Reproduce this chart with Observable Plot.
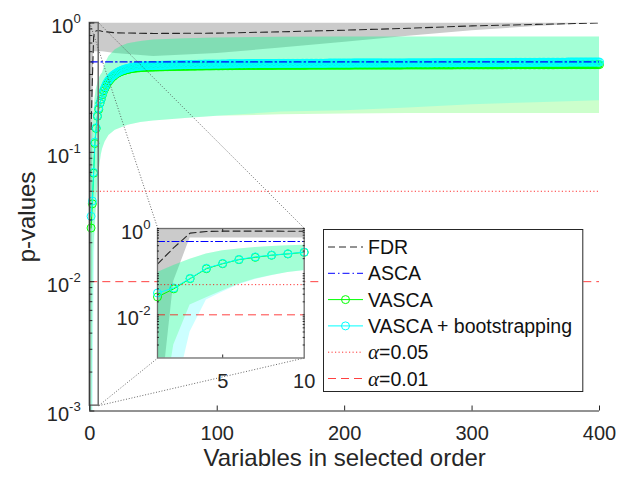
<!DOCTYPE html>
<html><head><meta charset="utf-8">
<script src="https://cdn.jsdelivr.net/npm/d3@7"></script>
<script src="https://cdn.jsdelivr.net/npm/@observablehq/plot@0.6"></script>
<style>
body{margin:0;background:#fff;}
#wrap{position:relative;width:626px;height:477px;font-family:"Liberation Sans",Arial,sans-serif;}
#wrap svg{position:absolute;overflow:visible;}
</style></head><body><div id="wrap"></div>
<script>
// ---------------- data ----------------
// p-values of VASCA (green) for variables 1..400 in selected order
const vasca = [
.026,.040,.069,.117,.153,.190,.215,.240,.258,.280,.300,.315,.330,.345,.355,.365,.375,.385,.390,.400,
.405,.410,.415,.420,.423,.426,.430,.432,.435,.437,.440,.442,.444,.446,.447,.448,.449,.450,.451,.452,
.453,.453,.454,.454,.455,.455,.455,.456,.456,.456,.457,.457,.457,.458,.458,.458,.459,.459,.459,.460,
.460,.460,.460,.461,.461,.461,.461,.462,.462,.462,.462,.462,.463,.463,.463,.463,.463,.464,.464,.464,
.464,.464,.464,.465,.465,.465,.465,.465,.465,.466,.466,.466,.466,.466,.466,.466,.467,.467,.467,.467,
.467,.467,.467,.467,.468,.468,.468,.468,.468,.468,.468,.468,.469,.469,.469,.469,.469,.469,.469,.469,
.469,.470,.470,.470,.470,.470,.470,.470,.470,.470,.470,.470,.470,.470,.470,.470,.470,.470,.470,.470,
.470,.470,.470,.470,.470,.471,.471,.471,.471,.471,.471,.471,.471,.471,.471,.471,.471,.471,.471,.471,
.471,.471,.471,.471,.471,.471,.471,.471,.471,.471,.472,.472,.472,.472,.472,.472,.472,.472,.472,.472,
.472,.472,.472,.472,.472,.472,.472,.472,.472,.472,.472,.472,.472,.472,.472,.472,.472,.472,.472,.472,
.472,.472,.472,.472,.472,.473,.473,.473,.473,.473,.473,.473,.473,.473,.473,.473,.473,.473,.473,.473,
.473,.473,.473,.473,.473,.473,.473,.473,.473,.473,.473,.473,.473,.473,.473,.473,.473,.473,.473,.473,
.473,.473,.473,.473,.473,.474,.474,.474,.474,.474,.474,.474,.474,.474,.474,.474,.474,.474,.474,.474,
.474,.474,.474,.474,.474,.474,.474,.474,.474,.474,.474,.474,.474,.474,.474,.474,.474,.474,.474,.474,
.474,.474,.474,.474,.474,.475,.475,.475,.475,.475,.475,.475,.475,.475,.475,.475,.475,.475,.475,.475,
.475,.475,.475,.475,.475,.475,.475,.475,.475,.475,.475,.475,.475,.475,.475,.475,.475,.475,.475,.475,
.475,.475,.475,.475,.475,.476,.476,.476,.476,.476,.476,.476,.476,.476,.476,.476,.476,.476,.476,.476,
.476,.476,.476,.476,.476,.476,.476,.476,.476,.476,.476,.476,.476,.476,.476,.476,.476,.476,.476,.476,
.476,.476,.476,.476,.476,.477,.477,.477,.477,.477,.477,.477,.477,.477,.477,.477,.477,.477,.477,.477,
.477,.477,.477,.477,.477,.477,.477,.477,.477,.477,.477,.477,.477,.477,.477,.477,.477,.477,.477,.477
];
// p-values of VASCA + bootstrapping (cyan)
const vascaBoot = [
.032,.042,.070,.120,.155,.192,.220,.242,.260,.284,.305,.322,.338,.352,.363,.373,.383,.392,.398,.405,
.411,.417,.422,.427,.431,.435,.438,.441,.444,.447,.450,.452,.454,.456,.458,.460,.461,.462,.463,.464,
.465,.465,.466,.466,.467,.467,.468,.468,.468,.469,.469,.469,.470,.470,.470,.471,.471,.471,.472,.472,
.472,.473,.473,.473,.474,.474,.474,.475,.475,.475,.475,.476,.476,.476,.476,.477,.477,.477,.477,.478,
.478,.478,.478,.478,.479,.479,.479,.479,.479,.480,.480,.480,.480,.480,.480,.481,.481,.481,.481,.481,
.481,.481,.482,.482,.482,.482,.482,.482,.483,.483,.483,.483,.483,.483,.484,.484,.484,.484,.484,.484,
.484,.484,.485,.485,.485,.485,.485,.485,.485,.485,.485,.485,.486,.486,.486,.486,.486,.486,.486,.486,
.486,.486,.486,.486,.486,.486,.487,.487,.487,.487,.487,.487,.487,.487,.487,.487,.487,.487,.487,.487,
.487,.487,.487,.487,.487,.487,.488,.488,.488,.488,.488,.488,.488,.488,.488,.488,.488,.488,.488,.488,
.488,.488,.488,.488,.488,.488,.489,.489,.489,.489,.489,.489,.489,.489,.489,.489,.489,.489,.489,.489,
.489,.489,.489,.489,.489,.489,.490,.490,.490,.490,.490,.490,.490,.490,.490,.490,.490,.490,.490,.490,
.490,.490,.490,.490,.490,.490,.490,.490,.491,.491,.491,.491,.491,.491,.491,.491,.491,.491,.491,.491,
.491,.491,.491,.491,.491,.491,.491,.491,.492,.492,.492,.492,.492,.492,.492,.492,.492,.492,.492,.492,
.492,.492,.492,.492,.492,.492,.492,.492,.493,.493,.493,.493,.493,.493,.493,.493,.493,.493,.493,.493,
.493,.493,.493,.493,.493,.493,.493,.493,.493,.493,.494,.494,.494,.494,.494,.494,.494,.494,.494,.494,
.494,.494,.494,.494,.494,.494,.494,.494,.494,.494,.495,.495,.495,.495,.495,.495,.495,.495,.495,.495,
.495,.495,.495,.495,.495,.495,.495,.495,.495,.495,.495,.495,.496,.496,.496,.496,.496,.496,.496,.496,
.496,.496,.496,.496,.496,.496,.496,.496,.496,.496,.496,.496,.497,.497,.497,.497,.497,.497,.497,.497,
.497,.497,.497,.497,.497,.497,.497,.497,.497,.497,.497,.497,.497,.497,.498,.498,.498,.498,.498,.498,
.498,.498,.498,.498,.498,.498,.498,.498,.498,.498,.498,.498,.498,.498,.498,.498,.498,.498,.498,.498
];
// confidence bands (read at these variable positions)
const bandX     = [1,2,3,4,5,6,7,8,9,10,12,15,20,25,30,40,50,75,100,150,200,250,300,350,400];
const vascaLow  = [1e-5,.002,.017,.025,.036,.052,.068,.081,.096,.106,.12,.135,.148,.155,.162,.17,.175,.183,.19,.195,.198,.2,.2,.2,.2];
const vascaHigh = [.096,.138,.195,.256,.305,.333,.363,.384,.40,.41,.48,.55,.62,.66,.69,.72,.74,.755,.765,.775,.78,.78,.78,.78,.78];
const bootLow   = [1e-5,1e-4,.004,.022,.034,.05,.066,.08,.095,.105,.12,.135,.148,.155,.162,.17,.175,.183,.19,.205,.21,.22,.233,.242,.25];
const bootHigh  = [.096,.138,.195,.256,.305,.333,.363,.384,.40,.41,.48,.55,.62,.66,.69,.72,.74,.755,.765,.775,.78,.78,.78,.78,.78];
// FDR curve and its band
const fdrX = [1,2,3,4,5,6,8,10,20,50,100,150,200,250,300,350,400];
const fdr  = [.15,.36,.78,.85,.87,.87,.87,.86,.84,.83,.835,.855,.88,.91,.95,.975,1.0];
const fdrBandX = [1,2,3,4,5,10,20,50,100,150,200,250,300,350,400];
const fdrLow   = [2e-5,.06,.6,.6,.6,.6,.58,.55,.58,.64,.71,.79,.87,.94,1.0];
const fdrHigh  = [1,1,1,1,1,1,1,1,1,1,1,1,1,1,1];
// ASCA
const ascaX = [1,400];
const asca  = [0.5,0.5];
// significance levels
const alphas = [0.05, 0.01];
// ticks
const xTicks = [0,100,200,300,400];
const yTicks = [1e-3,1e-2,1e-1,1];
const insetXTicks = [5,10];
const insetYTicks = [1e-2,1];
// zoomed region (data coordinates of main plot)
const zoomX = [0,7];
const zoomY = [0.0011,1];
const insetXDomain = [1,10];

// ---------------- layout / style ----------------
const W = 626, H = 477;
const M = {left: 89.3, right: 27, top: 22.5, bottom: 66.5};
const INSET = {left: 157.3, top: 228, right: 304, bottom: 357.5};
const LEG = {left: 322.7, top: 229, width: 260.3, height: 163};
const FONT = '"Liberation Sans", Arial, sans-serif';
const COL = {fdr:"#262626", fdrBand:"#cbcbcb", asca:"#0000ff", vasca:"#00ff00", boot:"#00ffff", alpha:"#ff0000", axis:"#262626", box:"#6e6e6e", conn:"#444"};
const DASH = {fdr:"7,4", asca:"7,3,1.5,3", a05:"1.2,2.3", a01:"8,5"};

const pts = vasca.map((v,i)=>({x:i+1, v, b: vascaBoot[i]}));
const band = bandX.map((x,i)=>({x, vl:vascaLow[i], vh:vascaHigh[i], bl:bootLow[i], bh:bootHigh[i]}));
const fdrRows = fdrX.map((x,i)=>({x, y:fdr[i]}));
const fdrBandRows = fdrBandX.map((x,i)=>({x, lo:fdrLow[i], hi:fdrHigh[i]}));
const ascaRows = ascaX.map((x,i)=>({x, y:asca[i]}));
const minor = [];
for (const d of [1e-3,1e-2,1e-1]) for (const k of [2,3,4,5,6,7,8,9]) minor.push(+(k*d).toPrecision(3));

const supFmt = d => "10^" + Math.round(Math.log10(d));
function supify(svg, base) {
  d3.select(svg).selectAll("text").each(function() {
    const m = /^10\^(-?\d+)$/.exec(this.textContent);
    if (!m) return;
    this.textContent = "10";
    d3.select(this).append("tspan").attr("dy", -0.5*base).attr("font-size", 0.66*base).text(m[1]);
  });
}

function dataMarks(o) {
  return [
    Plot.areaY(fdrBandRows, {x:"x", y1:"lo", y2:"hi", fill:COL.fdrBand, clip:true}),
    Plot.areaY(band, {x:"x", y1:"vl", y2:"vh", fill:COL.vasca, fillOpacity:0.2, clip:true}),
    Plot.areaY(band, {x:"x", y1:"bl", y2:"bh", fill:COL.boot, fillOpacity:0.2, clip:true}),
    Plot.line(fdrRows, {x:"x", y:"y", stroke:COL.fdr, strokeWidth:1.1, strokeDasharray:DASH.fdr, clip:true}),
    Plot.line(o.pts, {x:"x", y:"v", stroke:COL.vasca, strokeWidth:1}),
    Plot.dot(o.pts, {x:"x", y:"v", stroke:COL.vasca, r:4, strokeWidth:1}),
    Plot.line(o.pts, {x:"x", y:"b", stroke:COL.boot, strokeWidth:1}),
    Plot.dot(o.pts, {x:"x", y:"b", stroke:COL.boot, r:4, strokeWidth:1}),
    Plot.line(ascaRows, {x:"x", y:"y", stroke:COL.asca, strokeWidth:1.2, strokeDasharray:DASH.asca, clip:true}),
    Plot.ruleY([alphas[0]], {stroke:COL.alpha, strokeWidth:1, strokeOpacity:0.8, strokeDasharray:DASH.a05}),
    Plot.ruleY([alphas[1]], {stroke:COL.alpha, strokeWidth:1, strokeOpacity:0.75, strokeDasharray:DASH.a01})
  ];
}

// main scales for connector geometry
const sx = Plot.scale({x:{domain:[0,400], range:[M.left, W-M.right]}});
const sy = Plot.scale({y:{type:"log", domain:[1e-3,1], range:[H-M.bottom, M.top]}});
const conn = [
  {x1:zoomX[0], y1:zoomY[1], x2:sx.invert(INSET.left),  y2:sy.invert(INSET.top)},
  {x1:zoomX[1], y1:zoomY[1], x2:sx.invert(INSET.right), y2:sy.invert(INSET.top)},
  {x1:zoomX[1], y1:zoomY[0], x2:sx.invert(INSET.left),  y2:sy.invert(INSET.bottom)},
  {x1:zoomX[1], y1:zoomY[0], x2:sx.invert(INSET.right), y2:sy.invert(INSET.bottom)}
];

const main = Plot.plot({
  width:W, height:H,
  marginLeft:M.left, marginRight:M.right, marginTop:M.top, marginBottom:M.bottom,
  x:{domain:[0,400], label:null},
  y:{type:"log", domain:[1e-3,1], label:null},
  style:{fontFamily:FONT, fontSize:"20px", color:COL.axis, background:"transparent", overflow:"visible"},
  marks:[
    ...dataMarks({pts}),
    Plot.rect([{x1:zoomX[0], x2:zoomX[1], y1:zoomY[0], y2:zoomY[1]}], {x1:"x1", x2:"x2", y1:"y1", y2:"y2", fill:"none", stroke:COL.box, strokeWidth:1.5}),
    Plot.link(conn, {x1:"x1", y1:"y1", x2:"x2", y2:"y2", stroke:COL.conn, strokeWidth:1, strokeDasharray:"1,1.8", strokeOpacity:0.8}),
    Plot.ruleX([0], {stroke:COL.axis, strokeWidth:1}),
    Plot.ruleY([1e-3], {stroke:COL.axis, strokeWidth:1}),
    Plot.axisX({ticks:xTicks, tickSize:0, tickPadding:15, tickFormat:d=>d, label:null}),
    Plot.axisX({ticks:xTicks, tickSize:-5, tickFormat:()=>"", label:null}),
    Plot.axisY({ticks:yTicks, tickSize:0, tickPadding:9, dy:4, tickFormat:supFmt, label:null}),
    Plot.axisY({ticks:yTicks, tickSize:-5, tickFormat:()=>"", label:null}),
    Plot.axisY({ticks:minor, tickSize:-3, tickFormat:()=>"", label:null}),
    Plot.text(["p-values"], {text:d=>d, frameAnchor:"left", textAnchor:"middle", lineAnchor:"middle", dx:-62, rotate:-90, fontSize:24}),
    Plot.text(["Variables in selected order"], {text:d=>d, frameAnchor:"bottom", textAnchor:"middle", lineAnchor:"middle", dy:47, fontSize:24})
  ]
});
supify(main, 20);
main.style.left = "0px"; main.style.top = "0px";
document.getElementById("wrap").appendChild(main);

// ---------------- inset ----------------
const iM = {left:70, right:12, top:10, bottom:40};
const insetPts = pts.filter(d => d.x >= insetXDomain[0] && d.x <= insetXDomain[1]);
const inset = Plot.plot({
  width: INSET.right-INSET.left+iM.left+iM.right,
  height: INSET.bottom-INSET.top+iM.top+iM.bottom,
  marginLeft:iM.left, marginRight:iM.right, marginTop:iM.top, marginBottom:iM.bottom,
  x:{domain:insetXDomain, label:null},
  y:{type:"log", domain:[1e-3,1], label:null},
  style:{fontFamily:FONT, fontSize:"20px", color:COL.axis, background:"transparent", overflow:"visible"},
  marks:[
    Plot.frame({fill:"white", stroke:"none"}),
    ...dataMarks({pts:insetPts}),
    Plot.frame({stroke:COL.box, strokeWidth:1.3}),
    Plot.axisX({ticks:insetXTicks, tickSize:0, tickPadding:16, tickFormat:d=>d, label:null}),
    Plot.axisX({ticks:[5], anchor:"bottom", tickSize:-3, tickFormat:()=>"", label:null}),
    Plot.axisX({ticks:[5], anchor:"top", tickSize:-3, tickFormat:()=>"", label:null}),
    Plot.axisY({ticks:insetYTicks, tickSize:0, tickPadding:7, dy:4, tickFormat:supFmt, label:null}),
    Plot.axisY({ticks:[...minor, ...insetYTicks], anchor:"left", tickSize:-2, tickFormat:()=>"", label:null}),
    Plot.axisY({ticks:[...minor, ...insetYTicks], anchor:"right", tickSize:-2, tickFormat:()=>"", label:null})
  ]
});
supify(inset, 20);
inset.style.left = (INSET.left - iM.left) + "px";
inset.style.top = (INSET.top - iM.top) + "px";
document.getElementById("wrap").appendChild(inset);

// ---------------- legend ----------------
const legendItems = [
  {label:"FDR", stroke:COL.fdr, dash:DASH.fdr},
  {label:"ASCA", stroke:COL.asca, dash:DASH.asca},
  {label:"VASCA", stroke:COL.vasca, marker:true},
  {label:"VASCA + bootstrapping", stroke:COL.boot, marker:true},
  {label:"=0.05", alpha:true, stroke:COL.alpha, dash:DASH.a05, op:0.8},
  {label:"=0.01", alpha:true, stroke:COL.alpha, dash:DASH.a01, op:0.75}
];
const leg = d3.create("svg").attr("width", LEG.width).attr("height", LEG.height)
  .style("left", LEG.left+"px").style("top", LEG.top+"px");
leg.append("rect").attr("x",0.5).attr("y",0.5).attr("width",LEG.width-1).attr("height",LEG.height-1)
  .attr("fill","white").attr("stroke",COL.axis).attr("stroke-width",1);
legendItems.forEach((it,i) => {
  const y = 18 + i*26.3;
  const g = leg.append("g").attr("transform", `translate(0,${y})`);
  g.append("line").attr("x1",5).attr("x2",40).attr("y1",0).attr("y2",0)
    .attr("stroke",it.stroke).attr("stroke-width",1).attr("stroke-dasharray",it.dash||null).attr("stroke-opacity", it.op||1);
  if (it.marker) g.append("circle").attr("cx",22.5).attr("cy",0).attr("r",4).attr("fill","none").attr("stroke",it.stroke);
  const t = g.append("text").attr("x",45).attr("y",0).attr("dy","0.36em")
    .attr("font-family",FONT).attr("font-size",19.5).attr("fill","#111");
  if (it.alpha) t.append("tspan").attr("font-family",'"Liberation Serif", "Times New Roman", serif').attr("font-style","italic").attr("font-size",21).text("α");
  t.append("tspan").text(it.label);
});
document.getElementById("wrap").appendChild(leg.node());
</script></body></html>
